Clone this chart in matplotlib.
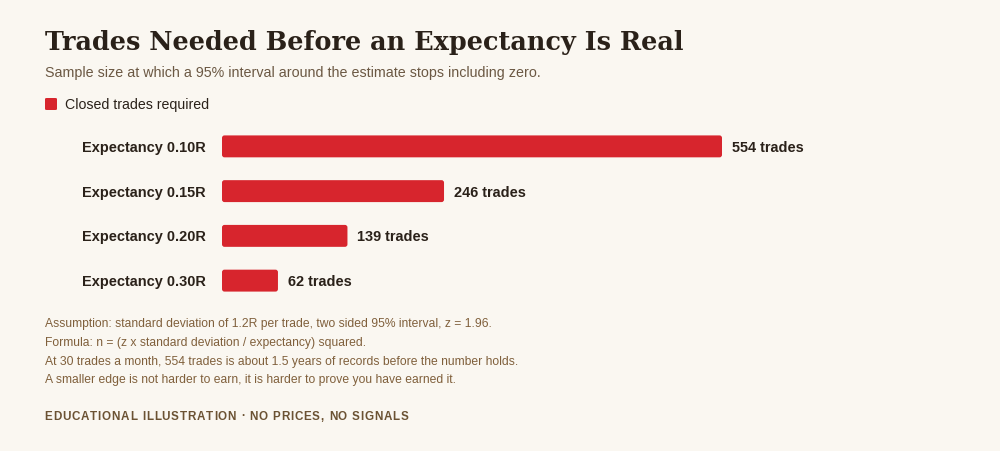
import matplotlib
matplotlib.use("Agg")
import matplotlib.pyplot as plt
from matplotlib.patches import FancyBboxPatch

categories = ["Expectancy 0.10R", "Expectancy 0.15R", "Expectancy 0.20R", "Expectancy 0.30R"]
trades = [554, 246, 139, 62]
value_labels = ["554 trades", "246 trades", "139 trades", "62 trades"]
legend_label = "Closed trades required"
title = "Trades Needed Before an Expectancy Is Real"
subtitle = "Sample size at which a 95% interval around the estimate stops including zero."
notes = [
    "Assumption: standard deviation of 1.2R per trade, two sided 95% interval, z = 1.96.",
    "Formula: n = (z x standard deviation / expectancy) squared.",
    "At 30 trades a month, 554 trades is about 1.5 years of records before the number holds.",
    "A smaller edge is not harder to earn, it is harder to prove you have earned it.",
]
footer = "EDUCATIONAL ILLUSTRATION · NO PRICES, NO SIGNALS"

BG = "#faf7f1"
RED = "#d7252d"
DARK = "#2a2119"
SUB = "#6b5843"
NOTE = "#80603c"
FOOT = "#6b5233"

W, H = 1000, 451
fig = plt.figure(figsize=(W / 100, H / 100), dpi=100, facecolor=BG)
fig.canvas.draw()
renderer = fig.canvas.get_renderer()


def fx(px):
    return px / W


def fy(py):
    return 1 - py / H


def fit_size(text, target_px, **kw):
    t = fig.text(0, 0, text, fontsize=10, **kw)
    w = t.get_window_extent(renderer).width
    t.remove()
    return 10 * target_px / w


sans = dict(family="Liberation Sans")
sansb = dict(family="Liberation Sans", fontweight="bold")

fs_title = fit_size(title, 641, family="DejaVu Serif", fontweight="bold")
fs_sub = fit_size(subtitle, 493, **sans)
fs_leg = fit_size(legend_label, 144, **sans)
fs_lab = fit_size(categories[0], 123, **sansb)
fs_val = fit_size(value_labels[0], 72, **sansb)
fs_note = fit_size(notes[0], 445, **sans)

fig.text(fx(45), fy(40), title, fontsize=fs_title, fontweight="bold", family="DejaVu Serif",
         color=DARK, va="center_baseline", ha="left")
fig.text(fx(45), fy(72), subtitle, fontsize=fs_sub, color=SUB, va="center_baseline", ha="left", **sans)

# legend
fig.patches.append(FancyBboxPatch((fx(45), fy(110)), fx(12), 12 / H,
                                  boxstyle="round,pad=0,rounding_size=0.002",
                                  transform=fig.transFigure, facecolor=RED, edgecolor="none"))
fig.text(fx(65), fy(104), legend_label, fontsize=fs_leg, color=DARK, va="center_baseline", ha="left", **sans)

# bars
ax_top, ax_bot = 124, 303
ax_w_px = 500
ax_h_px = ax_bot - ax_top
ax = fig.add_axes([fx(222), fy(ax_bot), fx(ax_w_px), ax_h_px / H])
ax.set_facecolor("none")
ypos = list(range(len(categories)))
bars = ax.barh(ypos, trades, height=0.49, color=RED, edgecolor="none")
ax.set_xlim(0, max(trades))
ax.set_ylim(len(categories) - 0.5, -0.5)

# rounded corners: replace each rectangle with a rounded box of the same extent
x_per_px = max(trades) / ax_w_px
y_per_px = len(categories) / ax_h_px
r_px = 2.5
for rect in bars:
    rect.set_visible(False)
    rb = FancyBboxPatch((rect.get_x(), rect.get_y()), rect.get_width(), rect.get_height(),
                        boxstyle=f"round,pad=0,rounding_size={r_px * x_per_px}",
                        mutation_aspect=y_per_px / x_per_px,
                        facecolor=RED, edgecolor="none")
    ax.add_patch(rb)

for s in ax.spines.values():
    s.set_visible(False)
ax.set_xticks([])
ax.set_yticks(ypos)
ax.set_yticklabels(categories, fontsize=fs_lab, color=DARK, **sansb)
for lbl in ax.get_yticklabels():
    lbl.set_va("center_baseline")
ax.tick_params(axis="y", length=0, pad=11.5)
for y, v, lab in zip(ypos, trades, value_labels):
    ax.annotate(lab, (v, y), xytext=(10, 0), textcoords="offset pixels",
                va="center_baseline", ha="left", fontsize=fs_val, color=DARK, **sansb)

# notes
for i, n in enumerate(notes):
    fig.text(fx(45), fy(323 + i * 18.6), n, fontsize=fs_note, color=NOTE,
             va="center_baseline", ha="left", **sans)

# footer with letter spacing
fs_foot = 8.4
chars = []
for ch in footer:
    t = fig.text(0, 0, ch if ch != " " else "I", fontsize=fs_foot, **sansb)
    w = t.get_window_extent(renderer).width
    t.remove()
    if ch == " ":
        a = fig.text(0, 0, "I I", fontsize=fs_foot, **sansb)
        b = fig.text(0, 0, "II", fontsize=fs_foot, **sansb)
        w = a.get_window_extent(renderer).width - b.get_window_extent(renderer).width
        a.remove()
        b.remove()
    chars.append((ch, w))
total = sum(w for _, w in chars)
spacing = (364 - total) / (len(chars) - 1)
x = 44.5
for ch, w in chars:
    if ch != " ":
        fig.text(fx(x), fy(415), ch, fontsize=fs_foot, color=FOOT,
                 va="center_baseline", ha="left", **sansb)
    x += w + spacing

fig.savefig("out.png", dpi=100, facecolor=BG)
